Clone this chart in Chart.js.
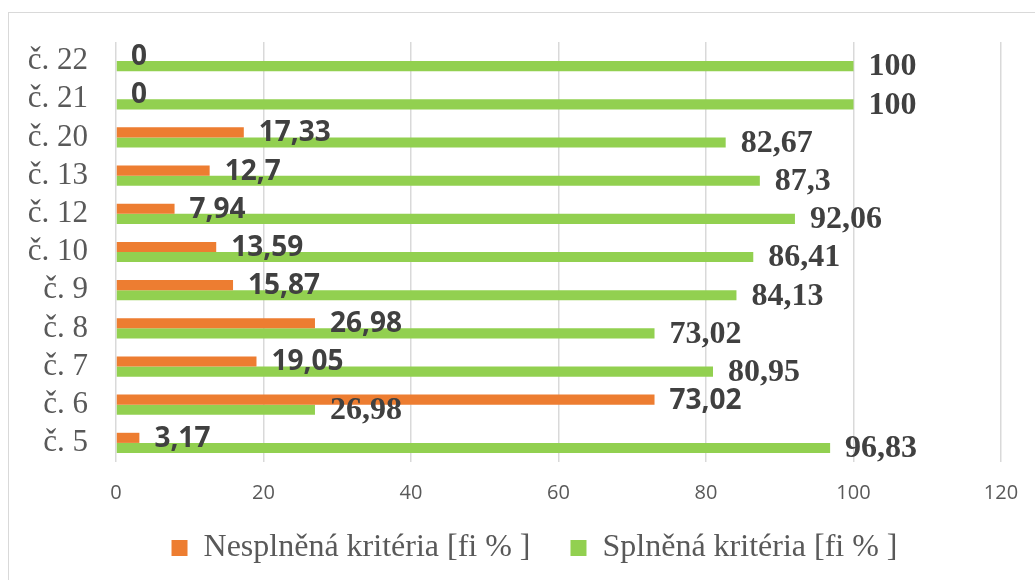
<!DOCTYPE html>
<html>
<head>
<meta charset="utf-8">
<script src="https://cdn.jsdelivr.net/npm/chart.js@4"></script>
<style>
  html, body { margin: 0; padding: 0; background: #fff; }
  #wrap { position: relative; width: 1035px; height: 580px; overflow: hidden; }
  #frame { position: absolute; left: 8px; top: 12px; width: 1100px; height: 700px; border: 1px solid #d9d9d9; }
  canvas { position: absolute; left: 0; top: 0; }
</style>
</head>
<body>
<div id="wrap">
  <div id="frame"></div>
  <canvas id="bar-chart" width="1035" height="580"></canvas>
</div>
<script>
// categories, top to bottom as in the picture
const categories = ["č. 22", "č. 21", "č. 20", "č. 13", "č. 12", "č. 10", "č. 9", "č. 8", "č. 7", "č. 6", "č. 5"];
const notMet = [0, 0, 17.33, 12.7, 7.94, 13.59, 15.87, 26.98, 19.05, 73.02, 3.17];
const met = [100, 100, 82.67, 87.3, 92.06, 86.41, 84.13, 73.02, 80.95, 26.98, 96.83];
const xTicks = [0, 20, 40, 60, 80, 100, 120];

const seriesNames = ["Nesplněná kritéria [fi % ]", "Splněná kritéria [fi % ]"];
const colors = ["#ED7D31", "#92D050"];

// value labels at the bar ends (comma as decimal separator)
const labelFonts = ["bold 28px 'Open Sans'", "bold 32px 'Liberation Serif'"];
const valueLabels = {
  id: "valueLabels",
  afterDatasetsDraw(chart) {
    const ctx = chart.ctx;
    ctx.save();
    ctx.fillStyle = "#404040";
    ctx.textAlign = "left";
    ctx.textBaseline = "middle";
    chart.data.datasets.forEach((ds, i) => {
      const meta = chart.getDatasetMeta(i);
      ctx.font = labelFonts[i];
      meta.data.forEach((bar, j) => {
        const txt = String(ds.data[j]).replace(".", ",");
        ctx.fillText(txt, bar.x + 15, bar.y + 1);
      });
    });
    ctx.restore();
  },
};

// nudge the legend a bit right, like in the original
const legendShift = {
  id: "legendShift",
  afterLayout(chart) {
    if (chart.legend) {
      chart.legend.left += 34;
      chart.legend.right += 34;
    }
  },
};

new Chart(document.getElementById("bar-chart"), {
  type: "bar",
  data: {
    labels: categories,
    datasets: [
      { label: seriesNames[0], data: notMet, backgroundColor: colors[0] },
      { label: seriesNames[1], data: met, backgroundColor: colors[1] },
    ],
  },
  options: {
    indexAxis: "y",
    responsive: false,
    animation: false,
    events: [],
    barPercentage: 1,
    categoryPercentage: 0.53,
    layout: { padding: { top: 42, right: 34, bottom: 6, left: 0 } },
    scales: {
      x: {
        min: 0,
        max: 120,
        afterBuildTicks: (scale) => {
          scale.ticks = xTicks.map((v) => ({ value: v }));
        },
        afterFit: (scale) => {
          scale.paddingLeft = 0;
          scale.paddingRight = 0;
        },
        grid: { color: "#d9d9d9", lineWidth: 1.5, drawTicks: false },
        border: { display: false },
        ticks: {
          padding: 19,
          color: "#595959",
          font: { family: "'Open Sans'", size: 20 },
        },
      },
      y: {
        afterFit: (scale) => {
          scale.width = 116;
          scale.paddingTop = 0;
          scale.paddingBottom = 0;
        },
        grid: { display: false, drawTicks: false },
        border: { display: false },
        ticks: {
          autoSkip: false,
          padding: 28,
          color: "#595959",
          font: { family: "'Liberation Serif'", size: 31 },
        },
      },
    },
    plugins: {
      tooltip: { enabled: false },
      legend: {
        position: "bottom",
        labels: {
          boxWidth: 16,
          boxHeight: 16,
          padding: 8,
          color: "#595959",
          font: { family: "'Liberation Serif'", size: 32 },
          // wider gap after the first entry
          generateLabels: (chart) =>
            Chart.defaults.plugins.legend.labels.generateLabels(chart).map((item, i) =>
              i === 0 ? { ...item, text: item.text + "\u00a0\u00a0\u00a0\u00a0" } : item
            ),
        },
      },
    },
  },
  plugins: [valueLabels, legendShift],
});
</script>
</body>
</html>
